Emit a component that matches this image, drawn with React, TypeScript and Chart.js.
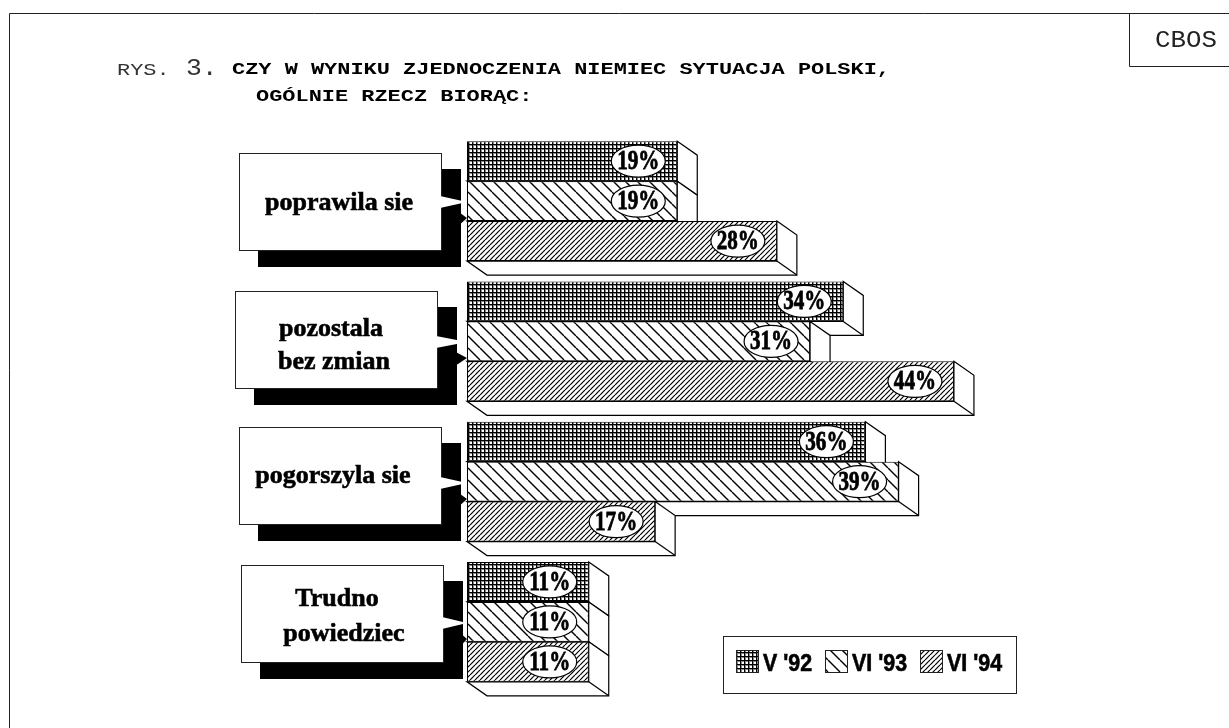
import React, { useEffect, useRef } from "react";
import { Chart, registerables } from "chart.js";

Chart.register(...registerables);

const categories = [["poprawila sie"], ["pozostala", "bez zmian"], ["pogorszyla sie"], ["Trudno", "powiedziec"]];
const seriesNames = ["V '92", "VI '93", "VI '94"];
const valuesV92 = [19, 34, 36, 11];
const valuesVI93 = [19, 31, 39, 11];
const valuesVI94 = [28, 44, 17, 11];

const titleLines = ["CZY W WYNIKU ZJEDNOCZENIA NIEMIEC SYTUACJA POLSKI,", "OGÓLNIE RZECZ BIORĄC:"];

const DEPTH_X = 20;
const DEPTH_Y = 14;

// left, dy from group centre of the callout box; text centre lines
const calloutLayout = [
  { x: 239, dy: -48, tx: [339], ty: [2] },
  { x: 235, dy: -50, tx: [331, 334], ty: [-12, 21] },
  { x: 239, dy: -55, tx: [333], ty: [-5] },
  { x: 241, dy: -57, tx: [337, 344], ty: [-23, 12] },
];

function makePattern(kind: string): CanvasPattern {
  const c = document.createElement("canvas");
  const n = kind === "grid" ? 4 : kind === "back" ? 12 : 5;
  c.width = n;
  c.height = n;
  const g = c.getContext("2d")!;
  g.fillStyle = "#fff";
  g.fillRect(0, 0, n, n);
  if (kind === "grid") {
    g.fillStyle = "#888";
    g.fillRect(0, 1, n, 1);
    g.fillRect(1, 0, 1, n);
    g.fillStyle = "#000";
    g.fillRect(0, 0, n, 1);
    g.fillRect(0, 0, 1, n);
  } else {
    g.strokeStyle = "#000";
    g.lineWidth = kind === "back" ? 1.4 : 1.2;
    for (const o of [-n, 0, n]) {
      g.beginPath();
      if (kind === "back") {
        g.moveTo(o, 0);
        g.lineTo(o + n, n);
      } else {
        g.moveTo(o, n);
        g.lineTo(o + n, 0);
      }
      g.stroke();
    }
  }
  return g.createPattern(c, "repeat")!;
}

function text(
  ctx: CanvasRenderingContext2D,
  s: string,
  x: number,
  y: number,
  font: string,
  opts: { sx?: number; align?: CanvasTextAlign; bold?: number; color?: string } = {},
) {
  const { sx = 1, align = "left", bold = 0, color = "#000" } = opts;
  ctx.save();
  ctx.translate(x, y);
  ctx.scale(sx, 1);
  ctx.font = font;
  ctx.textAlign = align;
  ctx.textBaseline = "middle";
  ctx.fillStyle = color;
  if (bold) {
    ctx.strokeStyle = color;
    ctx.lineWidth = bold;
    ctx.strokeText(s, 0, 0);
  }
  ctx.fillText(s, 0, 0);
  ctx.restore();
}

const decor = {
  id: "decor",
  beforeDatasetsDraw(chart: any) {
    const ctx: CanvasRenderingContext2D = chart.ctx;
    const yScale = chart.scales.y;

    // page frame and heading
    ctx.save();
    ctx.strokeStyle = "#222";
    ctx.lineWidth = 1;
    ctx.beginPath();
    ctx.moveTo(9.5, 728);
    ctx.lineTo(9.5, 13.5);
    ctx.lineTo(1229, 13.5);
    ctx.moveTo(1129.5, 13.5);
    ctx.lineTo(1129.5, 66.5);
    ctx.lineTo(1229, 66.5);
    ctx.stroke();
    ctx.restore();
    text(ctx, "CBOS", 1155, 41, '23px "Liberation Mono"', { sx: 1.12, color: "#222" });
    text(ctx, "RYS.", 117, 70, '17px "Liberation Mono"', { sx: 1.29, color: "#333" });
    text(ctx, "3.", 186, 69, '24px "Liberation Mono"', { sx: 1.1, color: "#333" });
    text(ctx, titleLines[0], 232, 70, 'bold 17px "Liberation Mono"', { sx: 1.29 });
    text(ctx, titleLines[1], 256, 97, 'bold 17px "Liberation Mono"', { sx: 1.29 });

    // 3-D depth faces, top bar first so that lower ones cover it
    ctx.save();
    ctx.strokeStyle = "#000";
    ctx.lineWidth = 1.2;
    ctx.fillStyle = "#fff";
    categories.forEach((_, i) => {
      chart.data.datasets.forEach((__: any, d: number) => {
        const b = chart.getDatasetMeta(d).data[i];
        const top = b.y - b.height / 2;
        const bot = b.y + b.height / 2;
        ctx.beginPath();
        ctx.moveTo(b.x, top);
        ctx.lineTo(b.x + DEPTH_X, top + DEPTH_Y);
        ctx.lineTo(b.x + DEPTH_X, bot + DEPTH_Y);
        ctx.lineTo(b.base + DEPTH_X, bot + DEPTH_Y);
        ctx.lineTo(b.base, bot);
        ctx.lineTo(b.x, bot);
        ctx.closePath();
        ctx.fill();
        ctx.stroke();
        ctx.beginPath();
        ctx.moveTo(b.x, bot);
        ctx.lineTo(b.x + DEPTH_X, bot + DEPTH_Y);
        ctx.stroke();
      });
    });
    ctx.restore();

    // callouts standing for the category axis labels
    categories.forEach((lines, i) => {
      const l = calloutLayout[i];
      const cy = yScale.getPixelForValue(i);
      const top = Math.round(cy + l.dy);
      const w = 202;
      const h = 97;
      const tipX = 467;
      const tipY = Math.round(cy) + 1;
      ctx.fillStyle = "#000";
      ctx.fillRect(l.x + 19, top + 16, w + 1, h + 1);
      ctx.beginPath();
      ctx.moveTo(l.x + w + 15, tipY + 8);
      ctx.lineTo(tipX, tipY + 16);
      ctx.lineTo(l.x + w + 15, tipY + 26);
      ctx.fill();
      ctx.fillStyle = "#fff";
      ctx.fillRect(l.x + .5, top + .5, w, h);
      ctx.strokeStyle = "#222";
      ctx.lineWidth = 1;
      ctx.strokeRect(l.x + .5, top + .5, w, h);
      ctx.beginPath();
      ctx.moveTo(l.x + w - 1, tipY - 6);
      ctx.lineTo(tipX, tipY);
      ctx.lineTo(l.x + w - 1, tipY + 6);
      ctx.fill();
      lines.forEach((t, j) => {
        text(ctx, t, l.tx[j], cy + l.ty[j], 'bold 26px "Liberation Serif"', { align: "center", sx: 1.0, bold: 0.6 });
      });
    });
  },
  afterDatasetsDraw(chart: any) {
    const ctx: CanvasRenderingContext2D = chart.ctx;
    // value ellipses
    chart.data.datasets.forEach((ds: any, d: number) => {
      chart.getDatasetMeta(d).data.forEach((b: any, i: number) => {
        const cx = b.x - 39;
        const cy = b.y;
        ctx.save();
        ctx.beginPath();
        ctx.ellipse(cx, cy, 27, 16, 0, 0, Math.PI * 2);
        ctx.fillStyle = "#fff";
        ctx.fill();
        ctx.strokeStyle = "#000";
        ctx.lineWidth = 1.2;
        ctx.stroke();
        ctx.restore();
        text(ctx, ds.data[i] + "%", cx, cy + 1, 'bold 27px "Liberation Serif"', { align: "center", sx: 0.78, bold: 0.8 });
      });
    });

    // legend
    ctx.save();
    ctx.strokeStyle = "#222";
    ctx.lineWidth = 1;
    ctx.strokeRect(723.5, 636.5, 293, 57);
    const swatchX = [736, 825, 920];
    const labelX = [763, 852, 947];
    chart.data.datasets.forEach((ds: any, d: number) => {
      ctx.fillStyle = ds.backgroundColor;
      ctx.fillRect(swatchX[d], 650, 22, 23);
      ctx.strokeStyle = "#222";
      ctx.strokeRect(swatchX[d] + .5, 650.5, 22, 22);
      text(ctx, ds.label, labelX[d], 665, 'bold 23px "Liberation Sans"', { bold: 0.6, sx: 0.93 });
    });
    ctx.restore();
  },
};

export default function App() {
  const ref = useRef<HTMLCanvasElement>(null);
  useEffect(() => {
    const chart = new Chart(ref.current!, {
      type: "bar",
      data: {
        labels: categories.map((c) => c.join(" ")),
        datasets: [
          { label: seriesNames[0], data: valuesV92, backgroundColor: makePattern("grid") },
          { label: seriesNames[1], data: valuesVI93, backgroundColor: makePattern("back") },
          { label: seriesNames[2], data: valuesVI94, backgroundColor: makePattern("fwd") },
        ].map((d) => ({ ...d, borderColor: "#000", borderWidth: 1, borderSkipped: false, categoryPercentage: 0.855, barPercentage: 1 })),
      },
      options: {
        indexAxis: "y",
        animation: false,
        responsive: false,
        layout: { padding: { left: 467, right: 98, top: 131, bottom: 36 } },
        scales: {
          x: { display: false, min: 0, max: 60 },
          y: { display: false },
        },
        plugins: { legend: { display: false }, title: { display: false }, tooltip: { enabled: false } },
      } as any,
      plugins: [decor],
    });
    return () => chart.destroy();
  }, []);
  return (
    <div style={{ position: "fixed", left: 0, top: 0, width: 1229, height: 728, background: "#fff" }}>
      <canvas ref={ref} width={1229} height={728} style={{ display: "block" }} />
    </div>
  );
}
